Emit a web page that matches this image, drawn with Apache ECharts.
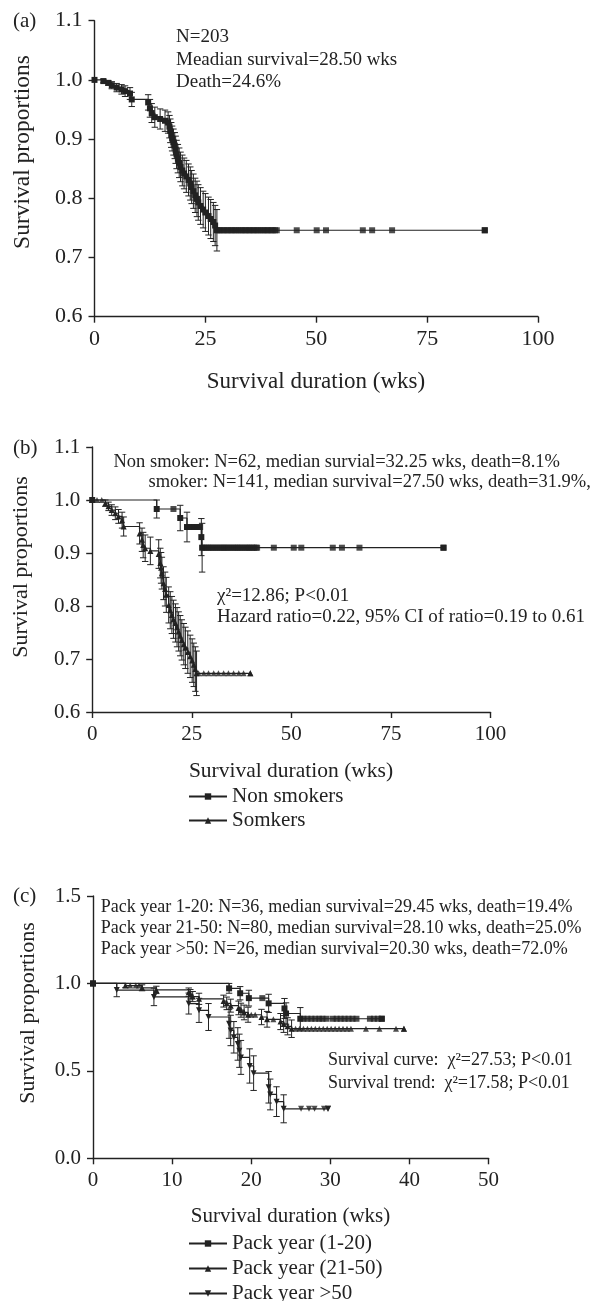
<!DOCTYPE html>
<html><head><meta charset="utf-8">
<script src="https://cdn.jsdelivr.net/npm/echarts@6/dist/echarts.min.js"></script>
<style>html,body{margin:0;padding:0;background:#fff}#c{width:597px;height:1301px}</style>
</head><body><div id="c"></div>
<script>
// ---------- Panel (a): all patients ----------
const aTimes = [0, 2.0, 3.1, 3.9, 5.0, 6.1, 6.9, 8.0, 8.4, 12.1, 12.5, 12.9, 13.6, 14.8, 15.9, 16.6, 16.9, 17.1, 17.3, 17.5, 17.8, 18.1, 18.3, 18.5, 18.8, 19.1, 19.4, 19.8, 20.2, 20.7, 21.2, 21.6, 21.9, 22.3, 22.7, 23.1, 23.4, 23.9, 24.5, 25.0, 25.7, 26.2, 26.8, 27.2, 27.6];
const aSurv = [1.000, 0.998, 0.995, 0.991, 0.987, 0.984, 0.981, 0.977, 0.967, 0.962, 0.952, 0.944, 0.937, 0.934, 0.931, 0.928, 0.921, 0.914, 0.907, 0.901, 0.895, 0.889, 0.882, 0.874, 0.867, 0.860, 0.853, 0.847, 0.842, 0.837, 0.831, 0.825, 0.819, 0.812, 0.805, 0.799, 0.793, 0.787, 0.781, 0.776, 0.770, 0.765, 0.760, 0.754, 0.746];
const aErr = [0, 0.003, 0.004, 0.006, 0.007, 0.008, 0.009, 0.010, 0.012, 0.013, 0.015, 0.016, 0.017, 0.017, 0.018, 0.018, 0.019, 0.020, 0.021, 0.021, 0.022, 0.022, 0.023, 0.024, 0.024, 0.025, 0.025, 0.026, 0.026, 0.027, 0.027, 0.028, 0.028, 0.029, 0.029, 0.030, 0.030, 0.031, 0.031, 0.032, 0.032, 0.033, 0.033, 0.034, 0.035];
const aCensor = [28.0, 28.4, 28.9, 29.3, 29.8, 30.2, 30.7, 31.1, 31.6, 32.0, 32.5, 33.0, 33.4, 33.9, 34.3, 34.8, 35.2, 35.7, 36.1, 36.6, 37.0, 37.5, 38.0, 38.4, 38.9, 39.3, 39.8, 40.2, 40.7, 41.1, 45.6, 50.1, 52.2, 60.5, 62.6, 67.1, 88.0];

// ---------- Panel (b): non smokers vs smokers ----------
const bNsTimes = [0, 16.2, 22.1, 23.8, 27.4, 27.6];
const bNsSurv = [1.0, 0.983, 0.966, 0.949, 0.930, 0.910];
const bNsErr = [0, 0.017, 0.024, 0.028, 0.035, 0.046];
const bNsCensor = [20.4, 24.3, 24.7, 25.1, 25.6, 26.0, 26.4, 26.8, 27.1, 28.0, 28.5, 29.0, 29.4, 29.9, 30.4, 30.9, 31.4, 31.9, 32.4, 32.9, 33.3, 33.8, 34.3, 34.8, 35.3, 35.8, 36.3, 36.7, 37.2, 37.7, 38.2, 38.7, 39.2, 39.6, 40.1, 40.6, 41.1, 41.4, 45.6, 50.6, 52.5, 60.4, 62.7, 67.1, 88.2];
const bSmTimes = [0, 3.3, 4.1, 4.9, 5.8, 6.6, 7.5, 7.9, 11.9, 12.5, 12.8, 13.3, 14.6, 16.7, 17.1, 17.3, 17.5, 17.9, 18.3, 18.6, 19.2, 19.6, 20.0, 20.4, 20.9, 21.3, 21.7, 22.1, 22.5, 23.0, 23.4, 24.0, 24.6, 25.1, 25.5, 25.9, 26.2];
const bSmSurv = [1.0, 0.994, 0.988, 0.981, 0.975, 0.969, 0.962, 0.950, 0.937, 0.925, 0.915, 0.909, 0.904, 0.898, 0.881, 0.872, 0.862, 0.843, 0.832, 0.821, 0.802, 0.792, 0.783, 0.775, 0.768, 0.760, 0.752, 0.744, 0.736, 0.728, 0.721, 0.713, 0.705, 0.697, 0.689, 0.681, 0.673];
const bSmErr = [0, 0.006, 0.008, 0.010, 0.012, 0.013, 0.015, 0.018, 0.020, 0.022, 0.024, 0.025, 0.026, 0.027, 0.028, 0.029, 0.030, 0.031, 0.032, 0.033, 0.034, 0.035, 0.035, 0.036, 0.036, 0.037, 0.037, 0.038, 0.038, 0.039, 0.039, 0.040, 0.040, 0.041, 0.041, 0.042, 0.042];
const bSmCensor = [1.2, 2.4, 26.7, 28.0, 29.2, 30.5, 31.7, 33.0, 34.2, 35.5, 36.8, 38.0, 39.7];

// ---------- Panel (c): pack years ----------
const cP1Times = [0, 17.2, 18.6, 19.7, 22.2, 24.2, 24.4, 26.2];
const cP1Surv = [1.0, 0.972, 0.944, 0.916, 0.886, 0.857, 0.828, 0.798];
const cP1Err = [0, 0.028, 0.038, 0.045, 0.052, 0.057, 0.061, 0.064];
const cP1Censor = [21.4, 26.6, 27.1, 27.6, 28.1, 28.6, 29.0, 29.5, 30.3, 30.8, 31.3, 31.8, 32.3, 32.8, 33.3, 35.0, 35.5, 36.0, 36.5];
const cP2Times = [0, 4.1, 6.2, 8.0, 12.1, 12.3, 12.6, 13.4, 16.5, 16.9, 17.4, 18.4, 18.7, 19.1, 19.6, 21.3, 22.0, 23.7, 24.1, 24.6, 25.1];
const cP2Surv = [1.0, 0.988, 0.975, 0.963, 0.950, 0.938, 0.925, 0.912, 0.899, 0.886, 0.873, 0.860, 0.847, 0.834, 0.821, 0.808, 0.795, 0.782, 0.768, 0.755, 0.741];
const cP2Err = [0, 0.012, 0.017, 0.021, 0.024, 0.027, 0.029, 0.032, 0.034, 0.036, 0.037, 0.039, 0.040, 0.042, 0.043, 0.044, 0.045, 0.046, 0.048, 0.049, 0.050];
const cP2Censor = [4.7, 5.4, 5.8, 20.0, 20.5, 22.8, 25.6, 26.1, 26.6, 27.1, 27.6, 28.1, 28.6, 29.1, 29.6, 30.1, 30.6, 31.1, 31.6, 32.1, 32.6, 34.5, 36.2, 38.3, 39.3];
const cP3Times = [0, 3.0, 7.7, 12.1, 13.4, 14.6, 17.2, 17.4, 17.8, 18.3, 18.5, 18.7, 19.8, 20.3, 22.2, 22.4, 23.2, 24.1];
const cP3Surv = [1.0, 0.962, 0.923, 0.885, 0.846, 0.808, 0.769, 0.731, 0.692, 0.654, 0.615, 0.577, 0.528, 0.487, 0.406, 0.365, 0.324, 0.283];
const cP3Err = [0, 0.038, 0.050, 0.060, 0.069, 0.077, 0.083, 0.087, 0.090, 0.093, 0.095, 0.097, 0.098, 0.099, 0.090, 0.088, 0.085, 0.080];
const cP3Censor = [26.3, 27.3, 28.0, 29.2, 29.7];

// ---------- drawing ----------
const FONT = '"Liberation Serif","Times New Roman",serif';
const INK = '#222';
const INVTRI = 'path://M0,0L10,0L5,9Z';

function stepVal(times, surv, t) {
  let v = surv[0];
  for (let i = 0; i < times.length; i++) if (times[i] <= t) v = surv[i];
  return v;
}
function errItem(params, api) {
  const x = api.value(0), y = api.value(1), e = api.value(2);
  if (!e) return null;
  const top = api.coord([x, y + e]), bot = api.coord([x, y - e]);
  const w = 3.2, st = { stroke: INK, lineWidth: 1 };
  return { type: 'group', children: [
    { type: 'line', shape: { x1: top[0], y1: top[1], x2: bot[0], y2: bot[1] }, style: st },
    { type: 'line', shape: { x1: top[0] - w, y1: top[1], x2: top[0] + w, y2: top[1] }, style: st },
    { type: 'line', shape: { x1: bot[0] - w, y1: bot[1], x2: bot[0] + w, y2: bot[1] }, style: st }
  ]};
}
function km(name, gi, times, surv, err, censor, symbol, size) {
  const tEnd = Math.max(times[times.length - 1], ...censor);
  const lineData = times.map((t, i) => [t, surv[i]]);
  lineData.push([tEnd, surv[surv.length - 1]]);
  return [
    { type: 'custom', name: name + ' err', xAxisIndex: gi, yAxisIndex: gi, z: 2,
      data: times.map((t, i) => [t, surv[i], err[i]]), renderItem: errItem,
      encode: { x: 0, y: 1 }, silent: true },
    { type: 'line', name: name, xAxisIndex: gi, yAxisIndex: gi, step: 'end', z: 3,
      data: lineData, symbol: symbol, symbolSize: size, showSymbol: true, showAllSymbol: true,
      lineStyle: { color: INK, width: 1.2 }, itemStyle: { color: INK } },
    { type: 'scatter', name: name + ' censored', xAxisIndex: gi, yAxisIndex: gi, z: 4,
      data: censor.map(t => [t, stepVal(times, surv, t)]), symbol: symbol, symbolSize: size,
      itemStyle: { color: INK } }
  ];
}
function xAx(gi, max, interval, fs) {
  return { gridIndex: gi, type: 'value', min: 0, max: max, interval: interval,
    axisLine: { show: true, onZero: false, lineStyle: { color: INK, width: 1.4 } },
    axisTick: { show: true, length: 6, lineStyle: { color: INK, width: 1.4 } },
    axisLabel: { color: INK, fontFamily: FONT, fontSize: fs, margin: 12 },
    splitLine: { show: false } };
}
function yAx(gi, min, max, interval, fs) {
  return { gridIndex: gi, type: 'value', min: min, max: max, interval: interval,
    axisLine: { show: true, onZero: false, lineStyle: { color: INK, width: 1.4 } },
    axisTick: { show: true, length: 6, lineStyle: { color: INK, width: 1.4 } },
    axisLabel: { color: INK, fontFamily: FONT, fontSize: fs, margin: 12, formatter: v => v.toFixed(1) },
    splitLine: { show: false } };
}
function txt(x, y, text, size, align, rot) {
  const el = { type: 'text', x: x, y: y, silent: true,
    style: { text: text, font: size + 'px ' + FONT, fill: INK,
      textAlign: align || 'left', textVerticalAlign: 'middle', align: align || 'left', verticalAlign: 'middle' } };
  if (rot) el.rotation = rot;
  return el;
}

const chart = echarts.init(document.getElementById('c'), null, { renderer: 'canvas' });
chart.setOption({
  animation: false,
  backgroundColor: '#fff',
  grid: [
    { left: 94.5, top: 20.7, width: 443.5, height: 296 },
    { left: 92.2, top: 447, width: 398.3, height: 265 },
    { left: 93, top: 896, width: 395.6, height: 262.3 }
  ],
  xAxis: [xAx(0, 100, 25, 22), xAx(1, 100, 25, 21), xAx(2, 50, 10, 21)],
  yAxis: [yAx(0, 0.6, 1.1, 0.1, 22), yAx(1, 0.6, 1.1, 0.1, 21), yAx(2, 0, 1.5, 0.5, 21)],
  legend: [
    { data: ['Non smokers', 'Somkers'], orient: 'vertical', left: 188, top: 786, padding: 0,
      width: 300, height: 80,
      itemWidth: 38, itemHeight: 8, itemGap: 3,
      textStyle: { color: INK, fontFamily: FONT, fontSize: 21, lineHeight: 21 } },
    { data: ['Pack year (1-20)', 'Pack year (21-50)', 'Pack year >50'], orient: 'vertical', left: 188, top: 1233, padding: 0,
      width: 300, height: 120,
      itemWidth: 38, itemHeight: 8, itemGap: 4,
      textStyle: { color: INK, fontFamily: FONT, fontSize: 21, lineHeight: 20 } }
  ],
  series: [
    ...km('All patients', 0, aTimes, aSurv, aErr, aCensor, 'rect', 6),
    ...km('Non smokers', 1, bNsTimes, bNsSurv, bNsErr, bNsCensor, 'rect', 6),
    ...km('Somkers', 1, bSmTimes, bSmSurv, bSmErr, bSmCensor, 'triangle', 6),
    ...km('Pack year (1-20)', 2, cP1Times, cP1Surv, cP1Err, cP1Censor, 'rect', 6),
    ...km('Pack year (21-50)', 2, cP2Times, cP2Surv, cP2Err, cP2Censor, 'triangle', 6),
    ...km('Pack year >50', 2, cP3Times, cP3Surv, cP3Err, cP3Censor, INVTRI, 6)
  ],
  graphic: [
    txt(13, 21, '(a)', 21),
    txt(176, 36.7, 'N=203', 19),
    txt(176, 60, 'Meadian survival=28.50 wks', 19),
    txt(176, 82, 'Death=24.6%', 19),
    txt(316, 381.7, 'Survival duration (wks)', 23, 'center'),
    txt(22.5, 152, 'Survival proportions', 23.5, 'center', Math.PI / 2),

    txt(13, 448, '(b)', 21),
    txt(113.5, 462, 'Non smoker: N=62, median survial=32.25 wks, death=8.1%', 18.5),
    txt(148.5, 482, 'smoker: N=141, median survival=27.50 wks, death=31.9%,', 18.5),
    txt(217, 596.5, 'χ²=12.86; P<0.01', 19),
    txt(217, 617, 'Hazard ratio=0.22, 95% CI of ratio=0.19 to 0.61', 19),
    txt(291, 771.7, 'Survival duration (wks)', 21.5, 'center'),
    txt(21, 567, 'Survival proportions', 22, 'center', Math.PI / 2),

    txt(13, 896, '(c)', 21),
    txt(100.7, 907, 'Pack year 1-20: N=36, median survival=29.45 wks, death=19.4%', 18),
    txt(100.7, 928, 'Pack year 21-50: N=80, median survival=28.10 wks, death=25.0%', 18),
    txt(100.7, 949, 'Pack year >50: N=26, median survival=20.30 wks, death=72.0%', 18),
    txt(328, 1060, 'Survival curve:  χ²=27.53; P<0.01', 18),
    txt(328, 1083, 'Survival trend:  χ²=17.58; P<0.01', 18),
    txt(290.5, 1216.7, 'Survival duration (wks)', 21, 'center'),
    txt(28, 1013, 'Survival proportions', 22, 'center', Math.PI / 2)
  ]
});
</script>
</body></html>
